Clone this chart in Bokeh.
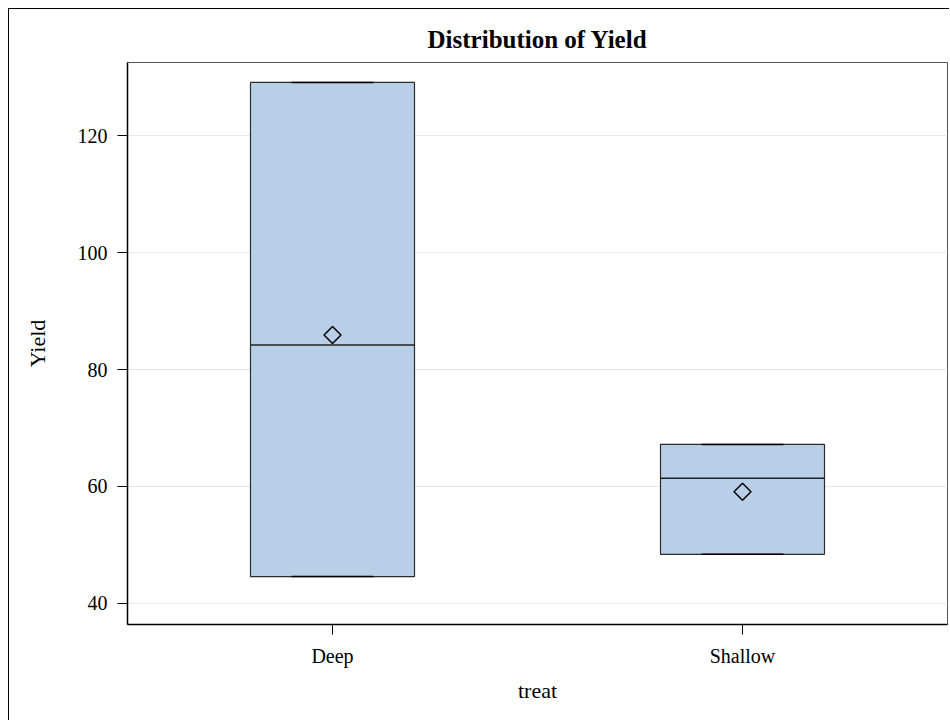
import numpy as np
from bokeh.plotting import figure
from bokeh.models import ColumnDataSource, FactorRange, Range1d, FixedTicker
from bokeh.transform import dodge
from bokeh.embed import file_html
from bokeh.resources import INLINE

# ---- data ----
categories = ["Deep", "Shallow"]
lower_whisker = [44.6, 48.4]
q1 = [44.6, 48.4]
median = [84.2, 61.4]
q3 = [129.1, 67.2]
upper_whisker = [129.1, 67.2]
mean = [85.9, 59.1]
y_ticks = [40, 60, 80, 100, 120]

src = ColumnDataSource(dict(cat=categories, lo=lower_whisker, q1=q1, med=median,
                            q3=q3, hi=upper_whisker, mean=mean))

SERIF = "Liberation Serif"

p = figure(x_range=FactorRange(factors=categories), y_range=Range1d(36.4, 132.5),
           width=941, height=712, output_backend="svg", toolbar_location=None,
           title="Distribution of Yield",
           min_border_left=118, min_border_right=3, min_border_top=53, min_border_bottom=97)
p.styles = {"margin-left": "8px", "margin-top": "8px",
            "border-top": "1px solid black", "border-left": "1px solid black"}

p.title.align = "center"
p.title.text_font = SERIF
p.title.text_font_size = "25px"
p.title.text_font_style = "bold"
p.title.text_color = "black"
p.title.standoff = 20

p.outline_line_color = "#555555"
p.outline_line_width = 1
p.background_fill_color = "white"
p.border_fill_color = "white"

p.xgrid.grid_line_color = None
p.ygrid.grid_line_color = "#e8e8e8"
p.ygrid.grid_line_width = 1
p.yaxis.ticker = FixedTicker(ticks=y_ticks)

for ax in (p.xaxis[0], p.yaxis[0]):
    ax.axis_line_color = "black"
    ax.axis_line_width = 1.5
    ax.major_tick_line_color = "black"
    ax.major_tick_out = 10
    ax.major_tick_in = 0
    ax.minor_tick_line_color = None
    ax.major_label_text_font = SERIF
    ax.major_label_text_font_size = "20px"
    ax.major_label_text_color = "black"
    ax.axis_label_text_font = SERIF
    ax.axis_label_text_font_size = "22px"
    ax.axis_label_text_font_style = "normal"
    ax.axis_label_text_color = "black"
    ax.major_label_standoff = 10

p.xaxis.axis_label = "treat"
p.yaxis.axis_label = "Yield"
p.xaxis.axis_label_standoff = 8
p.yaxis.axis_label_standoff = 25

# boxes
p.vbar(x="cat", width=0.4, bottom="q1", top="q3", source=src,
       fill_color="#b9cfe7", line_color="#2b2b2b", line_width=1.2)
# median
p.segment(x0=dodge("cat", -0.2, range=p.x_range), x1=dodge("cat", 0.2, range=p.x_range),
          y0="med", y1="med", source=src, line_color="#222222", line_width=1.5)
# whiskers
p.segment(x0="cat", x1="cat", y0="q3", y1="hi", source=src, line_color="black", line_width=1)
p.segment(x0="cat", x1="cat", y0="lo", y1="q1", source=src, line_color="black", line_width=1)
# caps
for col in ("hi", "lo"):
    p.segment(x0=dodge("cat", -0.1, range=p.x_range), x1=dodge("cat", 0.1, range=p.x_range),
              y0=col, y1=col, source=src, line_color="black", line_width=1.5)
# mean marker (open diamond)
p.scatter(x="cat", y="mean", source=src, marker="square", angle=np.pi / 4, size=12,
          fill_alpha=0, line_color="black", line_width=1.5)

open("out.html", "w").write(file_html(p, INLINE))
